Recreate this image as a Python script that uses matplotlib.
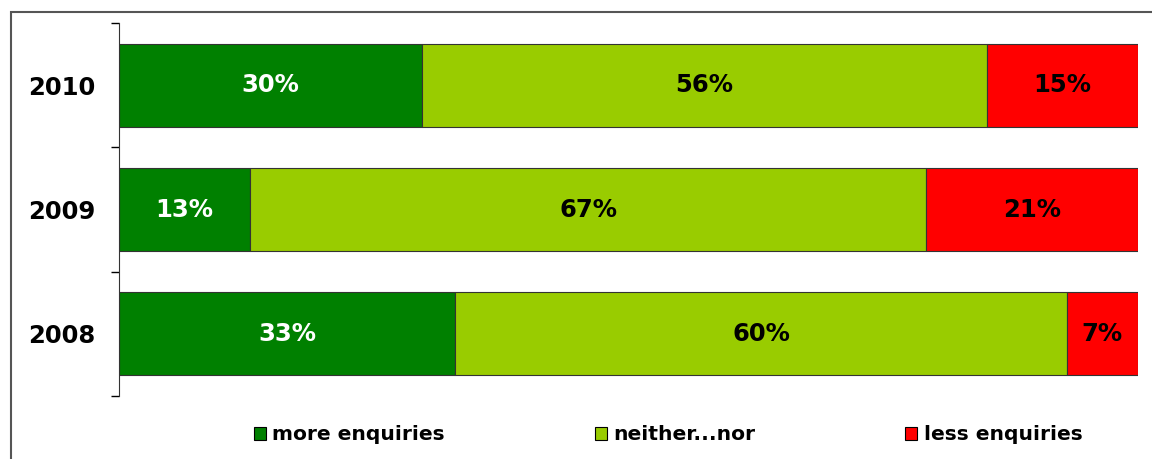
import matplotlib
matplotlib.use('Agg')
import matplotlib.pyplot as plt
from matplotlib.patches import Rectangle
import numpy as np

# ---- data ----------------------------------------------------------------- #
years = ['2008', '2009', '2010']
more_enq = [33, 13, 30]
neither = [60, 67, 56]
less_enq = [7, 21, 15]
series_names = ['more enquiries', 'neither...nor', 'less enquiries']
series_colors = ['#008000', '#99CC00', '#FF0000']
label_colors = ['white', 'black', 'black']
# --------------------------------------------------------------------------- #

plt.rcParams['font.family'] = ['DejaVu Sans']

vals = np.array([more_enq, neither, less_enq], dtype=float)
shares = vals / vals.sum(axis=0) * 100   # 100% stacked

fig = plt.figure(figsize=(11.52, 4.59), dpi=100)
ax = fig.add_axes([119 / 1152, 1 - 396 / 459, (1138 - 119) / 1152, (396 - 23) / 459])

# outer chart frame (cut off on right and bottom like the reference)
fig.patches.append(Rectangle((11 / 1152, -0.1), 1.2, 0.1 + 1 - 12 / 459,
                             transform=fig.transFigure, fill=False,
                             edgecolor='#555555', lw=1.5))

y = np.arange(len(years))
left = np.zeros(len(years))
for i, name in enumerate(series_names):
    bars = ax.barh(y, shares[i], left=left, height=0.67, color=series_colors[i],
                   edgecolor='#333333', lw=0.8, label=name)
    for b, v in zip(bars, vals[i]):
        ax.text(b.get_x() + b.get_width() / 2, b.get_y() + b.get_height() / 2,
                f'{int(v)}%', ha='center', va='center', fontsize=17.5,
                fontweight='bold', color=label_colors[i])
    left += shares[i]

ax.set_xlim(0, 100)
ax.set_ylim(-0.5, len(years) - 0.5)
ax.set_yticks(np.arange(-0.5, len(years)), minor=False)
ax.set_yticklabels([])
ax.set_yticks(y, minor=True)
ax.set_yticklabels(years, minor=True, fontsize=17.5, fontweight='bold')
ax.tick_params(axis='y', which='major', length=6, width=1, direction='out')
ax.tick_params(axis='y', which='minor', length=0, pad=17)
ax.set_xticks([])
for s in ('top', 'right', 'bottom'):
    ax.spines[s].set_visible(False)
ax.spines['left'].set_color('#333333')

leg = fig.legend(loc='center', bbox_to_anchor=(0.580, 1 - 435 / 459), ncol=3,
                 frameon=False, prop={'weight': 'bold', 'size': 14.6},
                 handlelength=0.6, handleheight=0.6, handletextpad=0.3,
                 columnspacing=7.4)
for h in leg.legend_handles:
    h.set_edgecolor('black')

fig.savefig('out.png', dpi=100)
